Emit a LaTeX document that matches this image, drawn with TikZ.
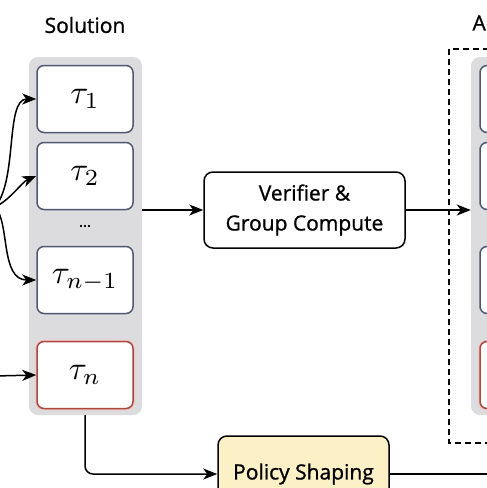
\documentclass[tikz,border=0pt]{standalone}
\usepackage{graphicx}
\usepackage{fontspec}
\setmainfont[FakeBold=1]{Open Sans}
\usetikzlibrary{arrows.meta}
\definecolor{colgray}{HTML}{DCDCDE}
\definecolor{tauedge}{HTML}{4E5870}
\definecolor{redge}{HTML}{A8483F}
\definecolor{redglow}{HTML}{F2C4C0}
\definecolor{polfill}{HTML}{FBF0C6}
\newcommand{\bigmath}[1]{\scalebox{3.3}{$#1$}}
\tikzset{
  column/.style={fill=colgray, rounded corners=9pt, minimum width=113pt, minimum height=358pt, inner sep=0pt},
  taubox/.style={draw=tauedge, line width=1.5pt, fill=white, rounded corners=7pt, minimum width=96pt, minimum height=67pt, inner sep=0pt},
  redbox/.style={taubox, draw=redge, preaction={draw=redglow, line width=3.5pt}},
  procbox/.style={draw=black, line width=1.5pt, rounded corners=9pt, inner sep=0pt, align=center, font=\fontsize{21}{30}\selectfont},
  title/.style={font=\fontsize{21}{25}\selectfont},
  arr/.style={draw=black, line width=1.5pt, -{Stealth[length=14pt,width=11pt,inset=4pt]}},
  plain/.style={draw=black, line width=1.5pt},
}
\begin{document}
\begin{tikzpicture}[x=1pt,y=-1pt]
\useasboundingbox (0,0) rectangle (487,488);
\clip (0,0) rectangle (487,488);
\fill[white] (0,0) rectangle (487,488);
% titles
\node[title] (soltitle) at (85,25) {Solution};
\node[title, anchor=west] (advtitle) at (469,25) {Advantage};
% left column
\node[column] (solcol) at (85.5,236) {};
\node[taubox] (t1) at (85,99) {\bigmath{\tau_1}};
\node[taubox] (t2) at (85,176) {\bigmath{\tau_2}};
\node[font=\fontsize{15}{17}\selectfont] (dots) at (85,226) {...};
\node[taubox] (tn1) at (85,280) {\bigmath{\tau_{n-1}}};
\node[redbox] (tn) at (85,375) {\bigmath{\tau_n}};
% dashed frame and right column
\draw[line width=1.6pt, dash pattern=on 6pt off 4pt] (449,49) rectangle (640,443);
\node[column] (advcol) at (527.5,236) {};
\node[taubox] (a1) at (528,99) {};
\node[taubox] (a2) at (528,176) {};
\node[taubox] (a3) at (528,280) {};
\node[redbox] (a4) at (528,375) {};
% process boxes
\node[procbox, minimum width=201pt, minimum height=76pt] (ver) at (304.5,210) {Verifier \&\\Group Compute};
\node[procbox, fill=polfill, minimum width=171pt, minimum height=76pt] (pol) at (303.5,474) {Policy Shaping};
% inputs from the left
\coordinate (src) at (-5,207);
\coordinate (tnin) at (-5,376);
\coordinate (polout) at (500,474);
\draw[arr] (src) .. controls (18,180) and (5,99) .. (t1.west);
\draw[arr] (src) .. controls (10,200) and (22,182) .. (t2.west);
\draw[arr] (src) .. controls (10,222) and (0,280) .. (tn1.west);
\draw[arr] (tnin) -- (tn.west);
% flows
\draw[arr] (ver.west -| solcol.east) -- (ver.west);
\draw[arr] (ver.east) -- (ver.east -| advcol.west);
\draw[arr, rounded corners=8pt] (tn.south |- solcol.south) |- (pol.west);
\draw[plain] (pol.east) -- (polout);
\end{tikzpicture}
\end{document}
